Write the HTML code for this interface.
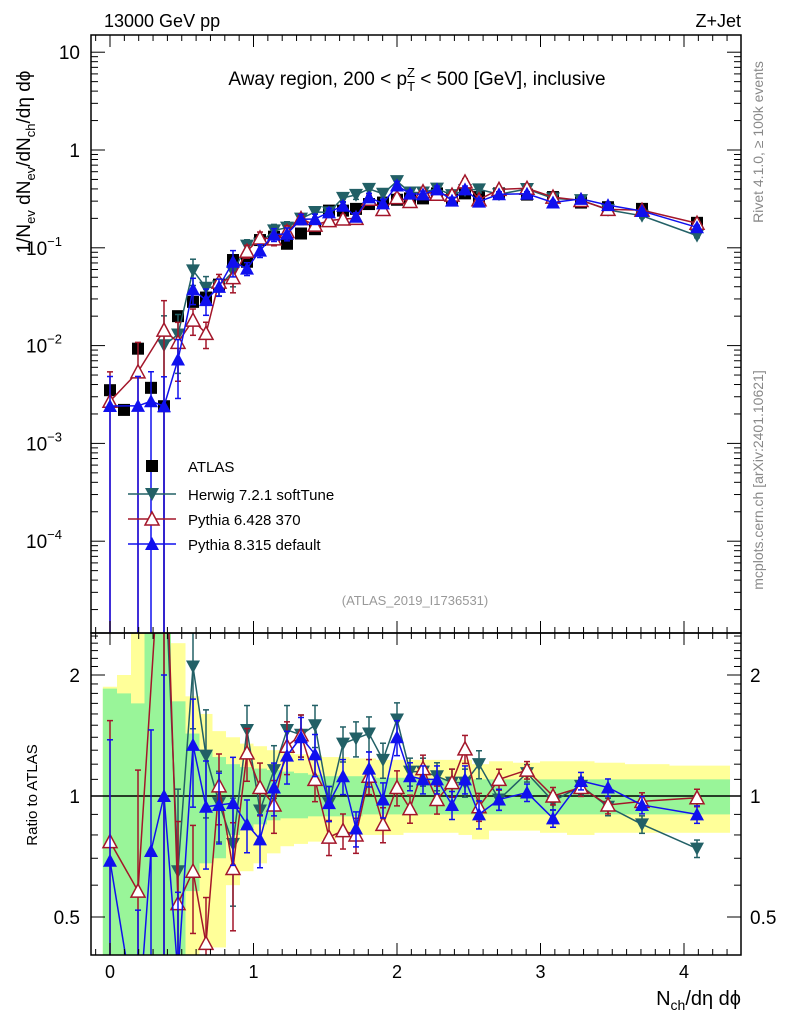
<!DOCTYPE html>
<html><head><meta charset="utf-8"><style>
html,body{margin:0;padding:0;background:#fff;overflow:hidden;width:786px;height:1024px;}
svg{display:block;font-family:"Liberation Sans",sans-serif;}
</style></head><body>
<svg id="chart" width="786" height="1024" viewBox="0 0 786 1024" xmlns="http://www.w3.org/2000/svg">
<defs>
<clipPath id="cm"><rect x="91" y="35" width="650" height="598"/></clipPath>
<clipPath id="cr"><rect x="91" y="633" width="650" height="322"/></clipPath>
</defs>
<g id="bands" clip-path="url(#cr)"></g>
<g id="main" clip-path="url(#cm)"></g>
<g id="ratio" clip-path="url(#cr)"></g>
<g id="axes"></g>
<text x="104" y="27" font-size="18">13000 GeV pp</text>
<text x="741" y="27" font-size="18" text-anchor="end">Z+Jet</text>
<text x="417" y="85" font-size="19" text-anchor="middle">Away region, 200 &lt; p<tspan font-size="13" dy="6">T</tspan><tspan font-size="13" dx="-8" dy="-14">Z</tspan><tspan dy="8"> &lt; 500 [GeV], inclusive</tspan></text>
<text transform="translate(30,162) rotate(-90)" font-size="19" text-anchor="middle">1/N<tspan font-size="13" dy="5">ev</tspan><tspan dy="-5"> dN</tspan><tspan font-size="13" dy="5">ev</tspan><tspan dy="-5">/dN</tspan><tspan font-size="13" dy="5">ch</tspan><tspan dy="-5">/dη dϕ</tspan></text>
<text transform="translate(37,795) rotate(-90)" font-size="15" text-anchor="middle">Ratio to ATLAS</text>
<text x="741" y="1005" font-size="20" text-anchor="end">N<tspan font-size="14" dy="5">ch</tspan><tspan dy="-5">/dη dϕ</tspan></text>
<text transform="translate(763,142) rotate(-90)" font-size="14" fill="#888" text-anchor="middle">Rivet 4.1.0, ≥ 100k events</text>
<text transform="translate(763,480) rotate(-90)" font-size="14" fill="#888" text-anchor="middle">mcplots.cern.ch [arXiv:2401.10621]</text>
<text x="415" y="605" font-size="13" fill="#999" text-anchor="middle">(ATLAS_2019_I1736531)</text>
<g id="legend"></g>
</svg>
<script>
const xPix=[110,124,138,151,164,178,193,206,219,233,247,260,274,287,301,315,329,343,356,369,383,397,410,423,437,452,465,479,499,527,553,581,608,642,697];
const atlas=[.0035,.0022,.0093,.0037,.0024,.02,.028,.031,.042,.075,.072,.12,.13,.11,.14,.155,.24,.24,.25,.28,.29,.31,.32,.32,.36,.32,.36,.33,.36,.35,.33,.29,.26,.25,.18];
const herwigRatio=[null,null,null,null,4.2,.65,2.1,1.26,.96,.76,1.46,.92,1.16,1.46,1.42,1.5,.96,1.35,1.39,1.43,1.23,1.55,1.15,1.15,1.12,1.08,1.08,1.2,.98,1.14,.97,1.06,.94,.85,.74];
const py6Ratio=[.77,null,.58,null,6,.54,.65,.43,1.06,.66,1.28,1.05,.95,1.33,1.42,1.1,.79,.82,.8,1.12,.85,1.05,.93,1.17,.98,1.08,1.31,.94,1.1,1.16,1.0,1.05,.95,.97,.99];
const py8Ratio=[.69,null,.26,.73,1.0,.36,1.34,.94,.95,.96,.85,.78,1.05,1.26,1.4,1.27,.96,1.12,.83,1.17,.98,1.4,1.12,1.1,1.1,.95,1.1,.9,.98,1.02,.88,1.09,1.05,.95,.9];
const relErr=[1,1,1,1,1,.6,.3,.3,.2,.3,.15,.15,.15,.15,.12,.12,.1,.1,.1,.1,.1,.1,.08,.08,.08,.08,.08,.08,.06,.05,.05,.05,.05,.05,.05];
const yelUp=[1.87,2.0,2.6,2.6,2.6,2.4,1.77,1.6,1.45,1.4,1.35,1.33,1.3,1.28,1.27,1.26,1.25,1.25,1.24,1.24,1.23,1.23,1.23,1.23,1.23,1.23,1.23,1.2,1.22,1.21,1.22,1.22,1.21,1.2,1.19];
const grnUp=[1.85,1.8,1.7,2.6,2.6,1.72,1.43,1.3,1.25,1.2,1.18,1.17,1.16,1.15,1.14,1.13,1.12,1.12,1.12,1.12,1.11,1.11,1.11,1.11,1.1,1.1,1.1,1.1,1.1,1.1,1.1,1.1,1.1,1.1,1.1];
const grnDn=[.4,.4,.4,.4,.4,.4,.58,.68,.7,.8,.83,.85,.87,.88,.88,.89,.89,.89,.89,.9,.9,.9,.9,.9,.9,.9,.9,.9,.9,.9,.9,.9,.9,.9,.9];
const yelDn=[.4,.4,.4,.4,.4,.4,.4,.42,.42,.6,.65,.68,.72,.75,.76,.77,.78,.79,.8,.8,.8,.8,.81,.81,.81,.81,.8,.78,.82,.82,.81,.8,.81,.81,.81];
const xTicks=[0,1,2,3,4];
const NS="http://www.w3.org/2000/svg";
const X=v=>110+v*143.5;
const xv=p=>(p-110)/143.5;
const Y=v=>150-97.8*Math.log10(v);
const R=r=>796-121*Math.log2(r);
function el(t,a,p){const e=document.createElementNS(NS,t);for(const k in a)e.setAttribute(k,a[k]);p.appendChild(e);return e;}
const gB=document.getElementById('bands'),gM=document.getElementById('main'),gR=document.getElementById('ratio'),gA=document.getElementById('axes'),gL=document.getElementById('legend');
const xs=xPix.map(xv);
for(let i=0;i<xs.length;i++){
 const l=i==0?xs[0]-0.05:(xs[i-1]+xs[i])/2, r=i==xs.length-1?xs[i]+0.23:(xs[i]+xs[i+1])/2;
 const y1=el('rect',{x:X(l),width:X(r)-X(l),y:R(yelUp[i]),height:R(yelDn[i])-R(yelUp[i]),fill:'#ffff99'},gB);
 
 
 const g1=el('rect',{x:X(l),width:X(r)-X(l),y:R(grnUp[i]),height:R(grnDn[i])-R(grnUp[i]),fill:'#99f599'},gB);
 
 
}
el('line',{x1:91,x2:741,y1:R(1),y2:R(1),stroke:'#000','stroke-width':1.5},gR);
function marker(g,type,cx,cy,col){
 let e;
 if(type=='sq')e=el('rect',{x:cx-6,y:cy-6,width:12,height:12,fill:'#000'},g);
 else if(type=='down')e=el('polygon',{points:`${cx-7},${cy-6} ${cx+7},${cy-6} ${cx},${cy+7}`,fill:col},g);
 else if(type=='up')e=el('polygon',{points:`${cx-7},${cy+6} ${cx+7},${cy+6} ${cx},${cy-7}`,fill:col},g);
 else e=el('polygon',{points:`${cx-7},${cy+6} ${cx+7},${cy+6} ${cx},${cy-7}`,fill:'#fff',stroke:col,'stroke-width':1.5},g);
 return e;
}
const series=[
 {name:'herwig',ratio:herwigRatio,col:'#226066',m:'down'},
 {name:'pythia6',ratio:py6Ratio,col:'#a3162a',m:'open'},
 {name:'pythia8',ratio:py8Ratio,col:'#1010ee',m:'up'}];
atlas.forEach((v,i)=>{const m=marker(gM,'sq',X(xs[i]),Y(v));
 
 });
series.forEach(s=>{
 let pm=[],pr=[];
 s.ratio.forEach((r,i)=>{if(r==null)return;const v=r*atlas[i];
  pm.push(X(xs[i])+','+Y(v));pr.push(X(xs[i])+','+R(r));});
 const lm=el('polyline',{points:pm.join(' '),fill:'none',stroke:s.col,'stroke-width':1.5},gM);
 
 
 const lr=el('polyline',{points:pr.join(' '),fill:'none',stroke:s.col,'stroke-width':1.5},gR);
 
 
 s.ratio.forEach((r,i)=>{if(r==null)return;const v=r*atlas[i],e=relErr[i],cx=X(xs[i]);
  const lo=Math.max(1e-9,1-e),hi=1+e;
  [[gM,Y(v*hi),Y(v*lo)],[gR,R(r*hi),R(r*lo)]].forEach(([g,a,b])=>{
   el('line',{x1:cx,x2:cx,y1:a,y2:b,stroke:s.col,'stroke-width':1.5},g);
   el('line',{x1:cx-3,x2:cx+3,y1:a,y2:a,stroke:s.col,'stroke-width':1.5},g);
   el('line',{x1:cx-3,x2:cx+3,y1:b,y2:b,stroke:s.col,'stroke-width':1.5},g);});
  const m1=marker(gM,s.m,cx,Y(v),s.col);
  
  
  const m2=marker(gR,s.m,cx,R(r),s.col);
  
  
 });
});
el('rect',{x:91,y:35,width:650,height:598,fill:'none',stroke:'#000','stroke-width':1.5},gA);
el('rect',{x:91,y:633,width:650,height:322,fill:'none',stroke:'#000','stroke-width':1.5},gA);
for(let k=-1;k<=44;k++){const v=k/10,x=X(v);if(x<91||x>741)continue;const L=k%10==0?12:6;
 [[35,1],[633,-1],[633,1],[955,-1]].forEach(([y,d])=>el('line',{x1:x,x2:x,y1:y,y2:y+d*L,stroke:'#000'},gA));}
xTicks.forEach(v=>{const t=el('text',{x:X(v),y:978,'font-size':18,'text-anchor':'middle'},gA);t.textContent=v;
 
 });
for(let d=-5;d<=1;d++)for(let m=1;m<10;m++){const v=m*Math.pow(10,d),y=Y(v);if(y<35||y>633)continue;const L=m==1?14:7;
 el('line',{x1:91,x2:91+L,y1:y,y2:y,stroke:'#000'},gA);el('line',{x1:741,x2:741-L,y1:y,y2:y,stroke:'#000'},gA);}
const yLab=[[10,'10',null],[1,'1',null],[0.1,'10','−1'],[0.01,'10','−2'],[0.001,'10','−3'],[0.0001,'10','−4']];
yLab.forEach(([v,b,e])=>{const t=el('text',{x:e?66:80,y:Y(v)+7,'font-size':19,'text-anchor':'end'},gA);t.textContent=b;
 
 
 if(e){const s=el('tspan',{'font-size':13,dy:-9},t);s.textContent=e;t.setAttribute('x',62);}});
for(let k=4;k<=25;k++){const r=k/10,y=R(r);if(y<633||y>955)continue;const major=(k==5||k==10||k==20);const L=major?14:7;
 el('line',{x1:91,x2:91+L,y1:y,y2:y,stroke:'#000'},gA);el('line',{x1:741,x2:741-L,y1:y,y2:y,stroke:'#000'},gA);}
[[2,'2'],[1,'1'],[0.5,'0.5']].forEach(([r,s])=>{[[80,'end'],[750,'start']].forEach(([x,a])=>{
 const t=el('text',{x:x,y:R(r)+7,'font-size':19,'text-anchor':a},gA);t.textContent=s;
 
 });});
const leg=[['ATLAS','sq','#000',466],['Herwig 7.2.1 softTune','down','#226066',494],['Pythia 6.428 370','open','#a3162a',519],['Pythia 8.315 default','up','#1010ee',544]];
leg.forEach(([n,m,c,y])=>{
 if(m!='sq')el('line',{x1:128,x2:176,y1:y,y2:y,stroke:c,'stroke-width':1.5},gL);
 const mk=marker(gL,m,152,y,c);
 
 
 const t=el('text',{x:188,y:y+6,'font-size':15},gL);t.textContent=n;
 
 });
</script>
</body></html>
